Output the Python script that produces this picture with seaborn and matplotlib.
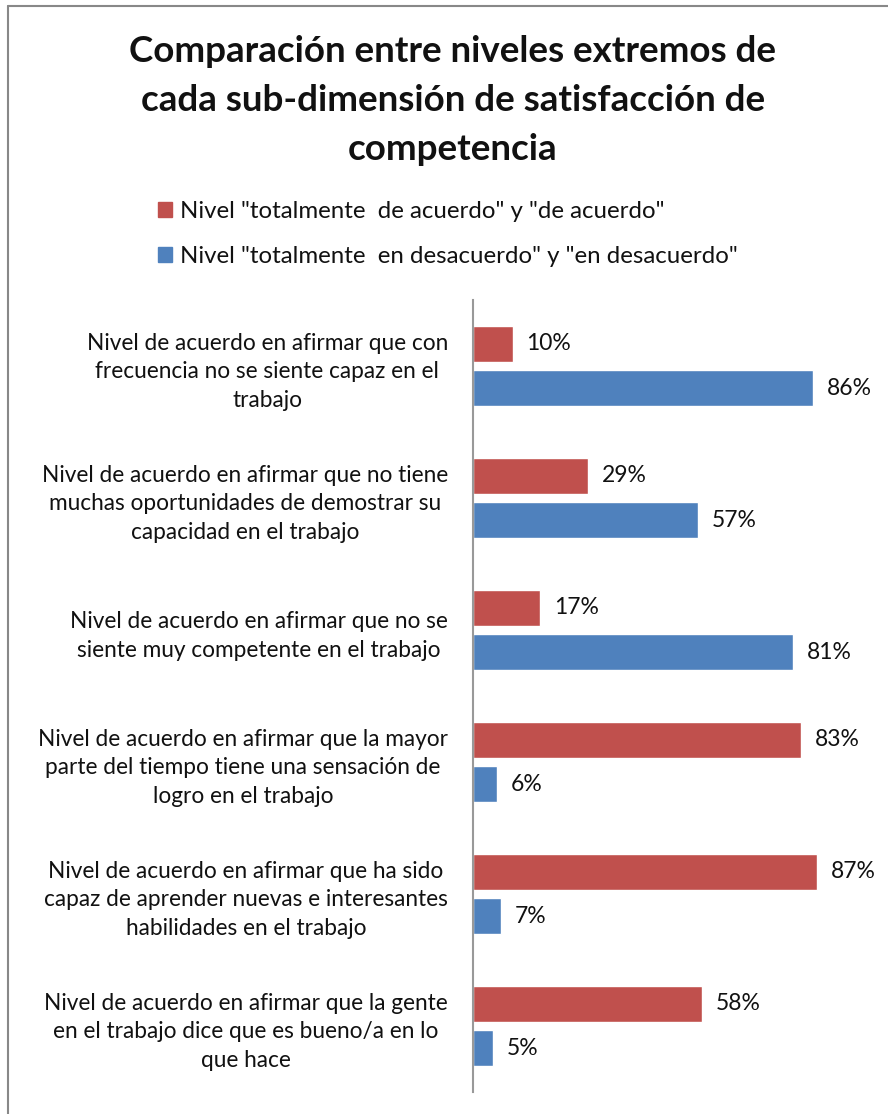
import pandas as pd
import seaborn as sns
import matplotlib.pyplot as plt
from matplotlib.lines import Line2D

# Data
categories = [
    "Nivel de acuerdo en afirmar que con\nfrecuencia no se siente capaz en el\ntrabajo",
    "Nivel de acuerdo en afirmar que no tiene\nmuchas oportunidades de demostrar su\ncapacidad en el trabajo",
    "Nivel de acuerdo en afirmar que no se\nsiente muy competente en el trabajo",
    "Nivel de acuerdo en afirmar que la mayor\nparte del tiempo tiene una sensación de\nlogro en el trabajo",
    "Nivel de acuerdo en afirmar que ha sido\ncapaz de aprender nuevas e interesantes\nhabilidades en el trabajo",
    "Nivel de acuerdo en afirmar que la gente\nen el trabajo dice que es bueno/a en lo\nque hace",
]
acuerdo = [10, 29, 17, 83, 87, 58]
desacuerdo = [86, 57, 81, 6, 7, 5]
series_names = [
    'Nivel "totalmente  de acuerdo" y "de acuerdo"',
    'Nivel "totalmente  en desacuerdo" y "en desacuerdo"',
]
colors = ["#C0504D", "#4F81BD"]
title = "Comparación entre niveles extremos de\ncada sub-dimensión de satisfacción de\ncompetencia"

df = pd.DataFrame({
    "categoria": categories * 2,
    "valor": acuerdo + desacuerdo,
    "serie": [series_names[0]] * len(categories) + [series_names[1]] * len(categories),
})

sns.set_theme(style="white")
plt.rcParams["font.family"] = ["Lato", "DejaVu Sans"]

fig = plt.figure(figsize=(8.88, 11.14), dpi=100)
ax = fig.add_axes([473 / 888, 1 - 1092 / 1114, 395 / 888, 792 / 1114])

sns.barplot(
    data=df, x="valor", y="categoria", hue="serie", order=categories,
    hue_order=series_names, palette=colors, width=0.667, gap=0.2,
    orient="h", ax=ax, legend=False, saturation=1,
)

for container in ax.containers:
    ax.bar_label(container, labels=[f"{v:.0f}%" for v in container.datavalues],
                 padding=10, fontsize=16.5, color="#111111")

ax.set_xlim(0, 100)
ax.set_ylim(len(categories) - 0.5, -0.5)
ax.set_xlabel("")
ax.set_ylabel("")
ax.set_xticks([])
for side in ["top", "right", "bottom"]:
    ax.spines[side].set_visible(False)
ax.spines["left"].set_color("#999999")
ax.spines["left"].set_linewidth(1.5)
ax.tick_params(axis="y", length=0, pad=18)
for lbl in ax.get_yticklabels():
    lbl.set_fontsize(16.3)
    lbl.set_multialignment("center")
    lbl.set_linespacing(1.45)
    lbl.set_color("#111111")

# Title
fig.text(0.51, 1 - 35 / 1114, title, ha="center", va="top", fontsize=26.5,
         fontweight="bold", linespacing=1.6, color="#111111")

# Legend
handles = [plt.Rectangle((0, 0), 1, 1, color=c) for c in colors]
fig.legend(handles, series_names, loc="upper left",
           bbox_to_anchor=(158 / 888, 1 - 201 / 1114), frameon=False,
           borderpad=0, borderaxespad=0,
           fontsize=17.3, handlelength=0.6, handleheight=0.6,
           handletextpad=0.3, labelspacing=1.0, labelcolor="#111111")

# Chart border (left and top, as in the cropped reference)
fig.add_artist(Line2D([8 / 888, 8 / 888], [0, 1 - 6 / 1114], transform=fig.transFigure,
                      color="#888888", lw=1.5))
fig.add_artist(Line2D([8 / 888, 1], [1 - 6 / 1114, 1 - 6 / 1114], transform=fig.transFigure,
                      color="#888888", lw=1.5))

fig.savefig("out.png", dpi=100)
